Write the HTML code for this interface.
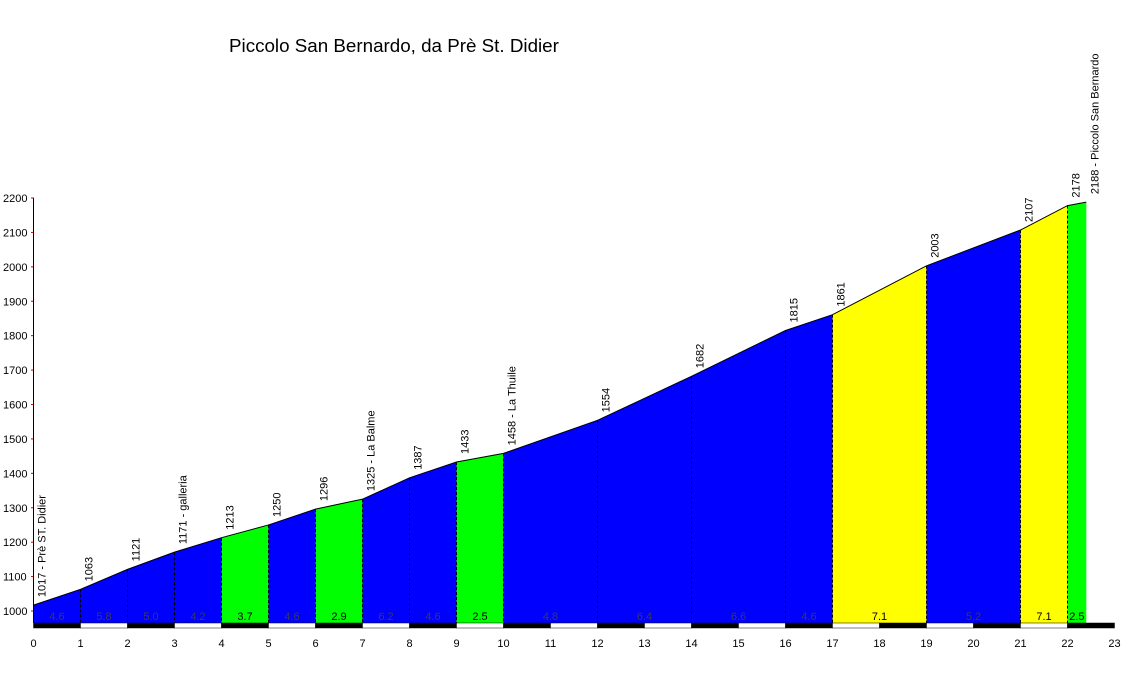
<!DOCTYPE html>
<html><head><meta charset="utf-8"><style>
html,body{margin:0;padding:0;background:#fff;width:1137px;height:673px;overflow:hidden}
svg{display:block;font-family:"Liberation Sans",Arial,sans-serif}
</style></head><body>
<svg id="c" width="1137" height="673">
<text x="229" y="52" font-size="18.8">Piccolo San Bernardo, da Prè St. Didier</text>
</svg>
<script>
const kms=[0,1,2,3,4,5,6,7,8,9,10,12,14,16,17,19,21,22,22.4];
const alts=[1017,1063,1121,1171,1213,1250,1296,1325,1387,1433,1458,1554,1682,1815,1861,2003,2107,2178,2188];
const names=["Prè ST. Didier","","","galleria","","","","La Balme","","","La Thuile","","","","","","","","Piccolo San Bernardo"];
const grades=["4.6","5.8","5.0","4.2","3.7","4.6","2.9","6.2","4.6","2.5","4.8","6.4","6.6","4.6","7.1","5.2","7.1","2.5"];
const segColors=["#0000ff","#0000ff","#0000ff","#0000ff","#00ff00","#0000ff","#00ff00","#0000ff","#0000ff","#00ff00","#0000ff","#0000ff","#0000ff","#0000ff","#ffff00","#0000ff","#ffff00","#00ff00"];
const yTicks=[1000,1100,1200,1300,1400,1500,1600,1700,1800,1900,2000,2100,2200];
const xTicks=[0,1,2,3,4,5,6,7,8,9,10,11,12,13,14,15,16,17,18,19,20,21,22,23];
const NS="http://www.w3.org/2000/svg";
const svg=document.getElementById('c');
const X=k=>33.5+k*47;
const Y=a=>611-(a-1000)*(413/1200);
const base=623;
function el(t,a){const e=document.createElementNS(NS,t);for(const k in a)e.setAttribute(k,a[k]);svg.appendChild(e);return e;}
for(let i=0;i<kms.length-1;i++){
  const p=el('polygon',{points:`${X(kms[i])},${base} ${X(kms[i])},${Y(alts[i])} ${X(kms[i+1])},${Y(alts[i+1])} ${X(kms[i+1])},${base}`,fill:segColors[i]});
  
  
  const dark=segColors[i]==="#0000ff";
  const g=el('text',{x:(X(kms[i])+X(kms[i+1]))/2,y:620,'font-size':11,'text-anchor':'middle',fill:dark?'#3a3a55':'#000'});
  g.textContent=grades[i];
  
  
}
el('polyline',{points:kms.map((k,i)=>X(k)+','+Y(alts[i])).join(' '),fill:'none',stroke:'#000','stroke-width':1});
for(let i=1;i<kms.length-1;i++){
  const d=el('line',{x1:X(kms[i]),x2:X(kms[i]),y1:Y(alts[i]),y2:base,stroke:'#000','stroke-dasharray':'3,2','stroke-width':1});
  
  
}
kms.forEach((k,i)=>{
  const x=X(k)+12,y=Y(alts[i])-8;
  const t=el('text',{x:x,y:y,'font-size':11,transform:`rotate(-90 ${x} ${y})`});
  t.textContent=alts[i]+(names[i]?' - '+names[i]:'');
  
  
});
for(let i=0;i<23;i++){
  const r=el('rect',{x:X(i),y:623,width:47,height:5,fill:i%2?'#fff':'#000',stroke:'#000','stroke-width':0.5});
  
  
}
xTicks.forEach(v=>{
  const t=el('text',{x:X(v),y:647,'font-size':11,'text-anchor':'middle'});
  t.textContent=v;
  
  
});
yTicks.forEach(v=>{
  el('line',{x1:31,x2:34,y1:Y(v),y2:Y(v),stroke:'#c00'});
  const t=el('text',{x:3,y:Y(v)+4,'font-size':11});
  t.textContent=v;
  
  
});
el('line',{x1:33.5,x2:33.5,y1:Y(2200),y2:base,stroke:'#000'});
</script>
</body></html>
